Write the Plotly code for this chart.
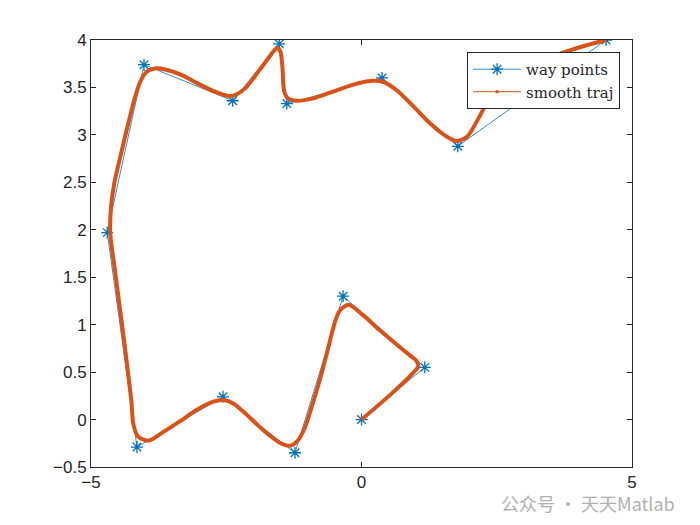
import plotly.graph_objects as go

# way points
wp_x = [0.0, 1.17, -0.34, -1.23, -2.56, -4.15, -4.70, -4.02, -2.38, -1.52, -1.38, 0.38, 1.78, 4.52]
wp_y = [0.0, 0.55, 1.30, -0.35, 0.24, -0.29, 1.97, 3.74, 3.36, 3.96, 3.33, 3.60, 2.88, 4.00]

# smooth trajectory
traj_x = [0.0, 0.53, 0.95, 1.05, 1.00, 0.93, 0.34, 0.03, -0.24, -0.40, -0.49,
          -0.64, -0.77, -0.92, -1.04, -1.17, -1.32, -1.51, -1.82, -2.12, -2.37, -2.555,
          -2.74, -3.05, -3.36, -3.66, -3.94, -4.13, -4.22, -4.25, -4.30, -4.39,
          -4.47, -4.55, -4.645, -4.63, -4.57, -4.47, -4.35, -4.20, -4.09,
          -3.97, -3.82, -3.63, -3.32, -3.02, -2.71, -2.46, -2.34, -2.15, -1.91, -1.72,
          -1.62, -1.56, -1.50, -1.46, -1.445, -1.42, -1.36, -1.20, -0.89, -0.46,
          -0.09, 0.22, 0.40, 0.65, 0.96, 1.27, 1.58, 1.76, 1.95, 2.13, 2.31, 2.60, 3.00,
          3.40, 3.79, 4.16, 4.52]
traj_y = [0.0, 0.26, 0.49, 0.56, 0.63, 0.66, 0.94, 1.10, 1.21, 1.15, 1.03,
          0.70, 0.42, 0.135, -0.075, -0.215, -0.276, -0.244, -0.11, 0.05, 0.17, 0.206,
          0.188, 0.10, -0.02, -0.13, -0.222, -0.18, -0.04, 0.17, 0.42, 0.84,
          1.19, 1.54, 1.97, 2.24, 2.49, 2.74, 3.03, 3.37, 3.56,
          3.665, 3.70, 3.69, 3.63, 3.54, 3.455, 3.41, 3.42, 3.49, 3.665, 3.81,
          3.885, 3.915, 3.88, 3.70, 3.53, 3.44, 3.385, 3.36, 3.385, 3.47,
          3.54, 3.57, 3.56, 3.47, 3.30, 3.12, 2.98, 2.935, 2.98, 3.14, 3.33, 3.58, 3.72,
          3.80, 3.88, 3.945, 4.0]

x_ticks = [-5, 0, 5]
y_ticks = [-0.5, 0, 0.5, 1, 1.5, 2, 2.5, 3, 3.5, 4]

BLUE = "#0072BD"
ORANGE = "#D95319"

fig = go.Figure()

fig.add_trace(
    go.Scatter(
        x=wp_x,
        y=wp_y,
        mode="lines+markers",
        name="way points",
        line=dict(color=BLUE, width=0.8),
        marker=dict(symbol="asterisk-open", size=10, color=BLUE,
                    line=dict(color=BLUE, width=1.3)),
    )
)

# the curve itself (thick, like the dense dotted MATLAB line)
fig.add_trace(
    go.Scatter(
        x=traj_x,
        y=traj_y,
        mode="lines",
        line=dict(color=ORANGE, width=4, shape="spline", smoothing=0.8),
        showlegend=False,
    )
)

# legend entry for the smooth trajectory
fig.add_trace(
    go.Scatter(
        x=[None],
        y=[None],
        mode="lines+markers",
        name="smooth traj",
        line=dict(color=ORANGE, width=1),
        marker=dict(symbol="square", size=3, color=ORANGE),
    )
)

axis_common = dict(
    showline=True,
    linecolor="#262626",
    linewidth=1,
    mirror="allticks",
    ticks="inside",
    ticklen=5,
    tickcolor="#262626",
    showgrid=False,
    zeroline=False,
    tickfont=dict(family="Liberation Sans, Arial", size=17, color="#262626"),
)

fig.update_xaxes(range=[-5, 5], tickvals=x_ticks, **axis_common)
fig.update_yaxes(range=[-0.5, 4], tickvals=y_ticks, **axis_common)

# page body has an 8px margin, so the figure is 8px smaller than the window
fig.update_layout(
    width=692,
    height=517,
    margin=dict(l=83, r=68, t=32, b=58),
    plot_bgcolor="white",
    paper_bgcolor="white",
    legend=dict(
        x=0.978,
        y=0.972,
        xanchor="right",
        yanchor="top",
        bgcolor="white",
        bordercolor="#262626",
        borderwidth=1,
        itemwidth=48,
        font=dict(family="DejaVu Serif", size=15, color="#262626"),
        tracegroupgap=0,
    ),
    annotations=[
        dict(
            text="公众号 · 天天Matlab",
            x=0.754,
            y=-0.084,
            xref="paper",
            yref="paper",
            xanchor="left",
            yanchor="middle",
            showarrow=False,
            font=dict(family="Noto Sans CJK SC", size=18, color="#b0b0b0"),
        )
    ],
)

fig.write_html("out.html")
